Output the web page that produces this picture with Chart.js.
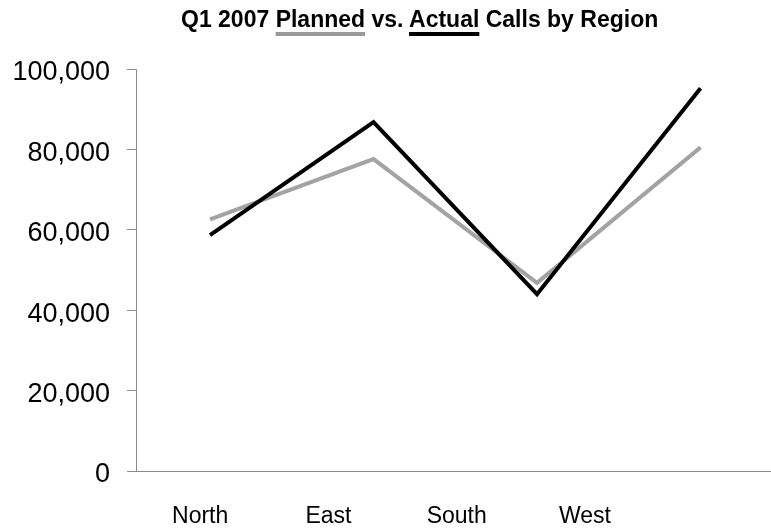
<!DOCTYPE html>
<html>
<head>
<meta charset="utf-8">
<title>Q1 2007 Planned vs. Actual Calls by Region</title>
<script src="https://cdn.jsdelivr.net/npm/chart.js@4.4.0/dist/chart.umd.min.js"></script>
<style>
    html, body { margin: 0; padding: 0; background: #fff; }
    #wrap { position: relative; width: 771px; height: 529px; }
    #chart-title {
        position: absolute; left: 181px; top: 5px;
        font: bold 23px "Liberation Sans", Arial, sans-serif;
        line-height: 28px; color: #000; white-space: nowrap;
    }
    .key { text-decoration: underline; text-decoration-thickness: 4px; text-underline-offset: 5px; text-decoration-skip-ink: none; }
    .key-planned { text-decoration-color: #999; }
    .key-actual { text-decoration-color: #000; }
    canvas { position: absolute; left: 0; top: 0; }
</style>
</head>
<body>
<div id="wrap">
    <canvas id="callsChart" width="771" height="529"></canvas>
    <div id="chart-title">Q1 2007 <span class="key key-planned">Planned</span> vs. <span class="key key-actual">Actual</span> Calls by Region</div>
</div>
<script>
const regions = ['North', 'East', 'South', 'West'];
const planned = [62600, 77600, 46800, 80500];
const actual = [58700, 86800, 44000, 95200];
const yTicks = [0, 20000, 40000, 60000, 80000, 100000];

const fontFamily = '"Liberation Sans", Arial, sans-serif';

function toPoints(values) {
    return values.map((v, i) => ({ x: i, y: v }));
}

document.addEventListener('DOMContentLoaded', () => {
    const ctx = document.getElementById('callsChart').getContext('2d');
    new Chart(ctx, {
        type: 'line',
        data: {
            datasets: [
                { label: 'Planned', data: toPoints(planned), borderColor: '#a3a3a3', borderWidth: 4,
                  pointRadius: 0, borderJoinStyle: 'miter', tension: 0, order: 1, xAxisID: 'x', yAxisID: 'y' },
                { label: 'Actual', data: toPoints(actual), borderColor: '#000', borderWidth: 4,
                  pointRadius: 0, borderJoinStyle: 'miter', tension: 0, order: 0, xAxisID: 'x', yAxisID: 'y' }
            ]
        },
        options: {
            responsive: false,
            animation: false,
            layout: { padding: { top: 69, right: 0, bottom: 0, left: 0 } },
            plugins: { legend: { display: false }, title: { display: false }, tooltip: { enabled: false } },
            scales: {
                // the lines sit on their own hidden axis
                x: { type: 'linear', display: false, min: -0.4526, max: 3.431 },
                regionAxis: {
                    type: 'linear', position: 'bottom', min: -0.5, max: 4.45,
                    afterBuildTicks: s => { s.ticks = regions.map((_, i) => ({ value: i })); },
                    ticks: {
                        callback: v => regions[v],
                        font: { family: fontFamily, size: 23 }, color: '#000',
                        padding: 24, autoSkip: false, maxRotation: 0
                    },
                    grid: { display: false },
                    border: { color: '#8c8c8c', width: 1 },
                    afterFit: s => { s.height = 58; }
                },
                y: {
                    min: 0, max: 100000,
                    afterBuildTicks: s => { s.ticks = yTicks.map(v => ({ value: v })); },
                    ticks: {
                        callback: v => v.toLocaleString('en-US'),
                        font: { family: fontFamily, size: 27 }, color: '#000', padding: 17, labelOffset: 4
                    },
                    grid: { drawOnChartArea: false, tickLength: 9, color: '#8c8c8c' },
                    border: { color: '#8c8c8c', width: 1 },
                    afterFit: s => { s.width = 136; }
                }
            }
        }
    });
});
</script>
</body>
</html>
